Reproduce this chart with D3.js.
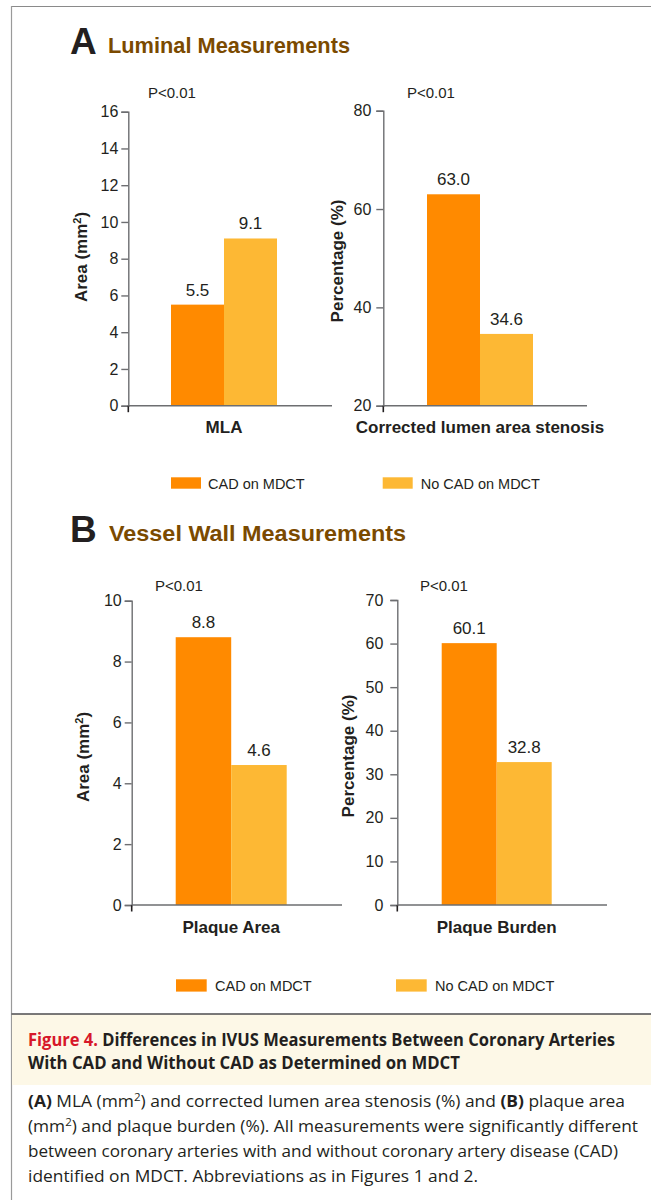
<!DOCTYPE html>
<html>
<head>
<meta charset="utf-8">
<script src="https://cdn.jsdelivr.net/npm/d3@7"></script>
<style>
  html, body { margin: 0; padding: 0; background: #fff; }
  svg { display: block; }
</style>
</head>
<body>
<script>
// ---------------- DATA ----------------
const series = ["CAD on MDCT", "No CAD on MDCT"];
const categories = ["MLA", "Corrected lumen area stenosis", "Plaque Area", "Plaque Burden"];
const cadValues = [5.5, 63.0, 8.8, 60.1];
const noCadValues = [9.1, 34.6, 4.6, 32.8];
const yTitles = ["Area (mm|2|)", "Percentage (%)", "Area (mm|2|)", "Percentage (%)"];
const yDomains = [[0, 16], [20, 80], [0, 10], [0, 70]];
const yTicksMLA = [0, 2, 4, 6, 8, 10, 12, 14, 16];
const yTicksStenosis = [20, 40, 60, 80];
const yTicksPlaqueArea = [0, 2, 4, 6, 8, 10];
const yTicksPlaqueBurden = [0, 10, 20, 30, 40, 50, 60, 70];
const pValues = ["P<0.01", "P<0.01", "P<0.01", "P<0.01"];
const panelLetters = ["A", "B"];
const panelTitles = ["Luminal Measurements", "Vessel Wall Measurements"];
const captionTitle1 = ["Figure 4.", " Differences in IVUS Measurements Between Coronary Arteries"];
const captionTitle2 = "With CAD and Without CAD as Determined on MDCT";
const captionBody = [
  [["(A)", true], [" MLA (mm", false], ["2", "sup"], [") and corrected lumen area stenosis (%) and ", false], ["(B)", true], [" plaque area", false]],
  [["(mm", false], ["2", "sup"], [") and plaque burden (%). All measurements were significantly different", false]],
  [["between coronary arteries with and without coronary artery disease (CAD)", false]],
  [["identified on MDCT. Abbreviations as in Figures 1 and 2.", false]]
];

// ---------------- LAYOUT ----------------
const W = 651, H = 1200;
const colors = ["#FF8A00", "#FDB834"];
const yTickSets = [yTicksMLA, yTicksStenosis, yTicksPlaqueArea, yTicksPlaqueBurden];
const layouts = [
  {ax: 128.3, xEnd: 332, top: 111.7, bottom: 405.7, g0: 171, g1: 277, pad: 3, tX: 87, tY: 257, pX: 148, pY: 98, catY: 432.5},
  {ax: 383.3, xEnd: 587, top: 110.7, bottom: 405.7, g0: 427, g1: 533, pad: 5, tX: 343, tY: 261, pX: 407, pY: 97.5, catY: 432.5},
  {ax: 131.7, xEnd: 342, top: 600.7, bottom: 905, g0: 175.7, g1: 286.7, pad: 3, tX: 89, tY: 757, pX: 155, pY: 590.7, catY: 933},
  {ax: 397.3, xEnd: 607, top: 600, bottom: 905, g0: 441.7, g1: 551.7, pad: 7, tX: 354, tY: 756, pX: 420, pY: 590.7, catY: 933}
];
const headers = [
  {x: 70, y: 54, tx: 108, tlen: 242},
  {x: 70, y: 542, tx: 109, tlen: 297}
];
const legends = [
  {y: 477.3, h: 11.4, w: 30, sx: [171, 382.7], tx: [208, 420.7], ty: 489},
  {y: 979.3, h: 12.3, w: 30.7, sx: [176, 396], tx: [215, 435], ty: 991}
];

const FONT = "'Liberation Sans', Arial, Helvetica, sans-serif";
const CAPFONT = "'Open Sans', 'Noto Sans', sans-serif";

const svg = d3.select("body").append("svg")
  .attr("width", W).attr("height", H)
  .attr("viewBox", `0 0 ${W} ${H}`);

// frame
svg.append("line").attr("x1", 11.5).attr("x2", W).attr("y1", 6.5).attr("y2", 6.5)
  .attr("stroke", "#8a8a8a").attr("stroke-width", 1.2);
svg.append("line").attr("x1", 11.5).attr("x2", 11.5).attr("y1", 6).attr("y2", H)
  .attr("stroke", "#9a9a9a").attr("stroke-width", 1.2);

// headers
headers.forEach((h, i) => {
  svg.append("text").attr("x", h.x).attr("y", h.y)
    .attr("font-family", FONT).attr("font-weight", "bold").attr("font-size", 37)
    .attr("fill", "#231f20").text(panelLetters[i]);
  svg.append("text").attr("x", h.tx).attr("y", h.y - 1)
    .attr("font-family", FONT).attr("font-weight", "bold").attr("font-size", 22)
    .attr("textLength", h.tlen).attr("lengthAdjust", "spacingAndGlyphs")
    .attr("fill", "#7b4a00").text(panelTitles[i]);
});

// charts
categories.forEach((cat, i) => {
  const L = layouts[i];
  const g = svg.append("g");
  const y = d3.scaleLinear().domain(yDomains[i]).range([L.bottom, L.top]);
  const x0 = d3.scaleBand().domain([cat]).range([L.g0, L.g1]).padding(0);
  const x1 = d3.scaleBand().domain(series).range([0, x0.bandwidth()]).padding(0);
  const vals = [cadValues[i], noCadValues[i]];

  // bars
  g.selectAll("rect.bar").data(series).join("rect")
    .attr("class", "bar")
    .attr("x", s => x0(cat) + x1(s))
    .attr("width", x1.bandwidth())
    .attr("y", (s, j) => y(vals[j]))
    .attr("height", (s, j) => y(yDomains[i][0]) - y(vals[j]))
    .attr("fill", (s, j) => colors[j]);

  // value labels
  g.selectAll("text.val").data(series).join("text")
    .attr("class", "val")
    .attr("x", s => x0(cat) + x1(s) + x1.bandwidth() / 2)
    .attr("y", (s, j) => y(vals[j]) - 9)
    .attr("text-anchor", "middle")
    .attr("font-family", FONT).attr("font-size", 17).attr("fill", "#231f20")
    .text((s, j) => vals[j].toFixed(1));

  // y axis
  const yAxis = g.append("g").attr("transform", `translate(${L.ax},0)`)
    .call(d3.axisLeft(y).tickValues(yTickSets[i]).tickSize(7).tickSizeOuter(7).tickPadding(L.pad));
  yAxis.selectAll("path, line").attr("stroke", "#6d6e71").attr("stroke-width", 1.4);
  yAxis.selectAll("text").attr("font-family", FONT).attr("font-size", 16).attr("fill", "#231f20");
  // small extension below the origin
  g.append("line").attr("x1", L.ax).attr("x2", L.ax).attr("y1", L.bottom).attr("y2", L.bottom + 6.5)
    .attr("stroke", "#231f20").attr("stroke-width", 1.6);

  // x axis line
  const xLine = d3.scaleLinear().range([L.ax, L.xEnd]);
  g.append("line").attr("x1", xLine.range()[0]).attr("x2", xLine.range()[1])
    .attr("y1", L.bottom).attr("y2", L.bottom)
    .attr("stroke", "#6d6e71").attr("stroke-width", 1.4);

  // category label
  const xAxis = g.append("g").attr("transform", `translate(0,${L.bottom})`)
    .call(d3.axisBottom(x0).tickSize(0).tickPadding(L.catY - L.bottom - 12));
  xAxis.select(".domain").remove();
  xAxis.selectAll("text").attr("font-family", FONT).attr("font-weight", "bold")
    .attr("font-size", 17).attr("fill", "#231f20");

  // y title
  const parts = yTitles[i].split("|");
  const t = g.append("text")
    .attr("transform", `translate(${L.tX},${L.tY}) rotate(-90)`)
    .attr("text-anchor", "middle")
    .attr("font-family", FONT).attr("font-weight", "bold").attr("font-size", 17).attr("fill", "#231f20");
  if (parts.length === 3) {
    t.append("tspan").text(parts[0]);
    t.append("tspan").attr("dy", -6).attr("font-size", 11).text(parts[1]);
    t.append("tspan").attr("dy", 6).text(parts[2]);
  } else {
    t.text(parts[0]);
  }

  // p value
  g.append("text").attr("x", L.pX).attr("y", L.pY)
    .attr("font-family", FONT).attr("font-size", 15).attr("fill", "#231f20")
    .text(pValues[i]);
});

// legends
legends.forEach(lg => {
  series.forEach((s, j) => {
    svg.append("rect").attr("x", lg.sx[j]).attr("y", lg.y).attr("width", lg.w).attr("height", lg.h)
      .attr("fill", colors[j]);
    svg.append("text").attr("x", lg.tx[j]).attr("y", lg.ty)
      .attr("font-family", FONT).attr("font-size", 14.5).attr("fill", "#231f20").text(s);
  });
});

// caption box
svg.append("rect").attr("x", 12).attr("y", 1014).attr("width", W - 12).attr("height", 71)
  .attr("fill", "#fdf8e7");
svg.append("line").attr("x1", 11.5).attr("x2", W).attr("y1", 1014).attr("y2", 1014)
  .attr("stroke", "#4d4d4f").attr("stroke-width", 1.6);

const ct1 = svg.append("text").attr("x", 28).attr("y", 1046)
  .attr("font-family", CAPFONT).attr("font-weight", "bold").attr("font-size", 17)
  .attr("textLength", 587).attr("lengthAdjust", "spacingAndGlyphs").attr("fill", "#231f20");
ct1.append("tspan").attr("fill", "#d7182a").text(captionTitle1[0]);
ct1.append("tspan").text(captionTitle1[1]);
svg.append("text").attr("x", 28).attr("y", 1069)
  .attr("font-family", CAPFONT).attr("font-weight", "bold").attr("font-size", 17)
  .attr("textLength", 432).attr("lengthAdjust", "spacingAndGlyphs").attr("fill", "#231f20")
  .text(captionTitle2);

const bodyLens = [597, 610, 590, 450];
const bodyYs = [1107, 1132, 1157, 1182];
captionBody.forEach((line, k) => {
  const t = svg.append("text").attr("x", 28).attr("y", bodyYs[k])
    .attr("font-family", CAPFONT).attr("font-size", 16.5)
    .attr("textLength", bodyLens[k]).attr("lengthAdjust", "spacingAndGlyphs").attr("fill", "#231f20");
  line.forEach(([txt, style]) => {
    const sp = t.append("tspan").text(txt);
    if (style === true) sp.attr("font-weight", "bold");
    if (style === "sup") {
      sp.attr("dy", -6).attr("font-size", 11);
    }
  });
  // restore baseline after superscripts
  t.selectAll("tspan").each(function(d, idx, nodes) {
    const prev = idx > 0 ? nodes[idx - 1] : null;
    if (prev && prev.getAttribute("dy") === "-6") d3.select(this).attr("dy", 6);
  });
});
</script>
</body>
</html>
